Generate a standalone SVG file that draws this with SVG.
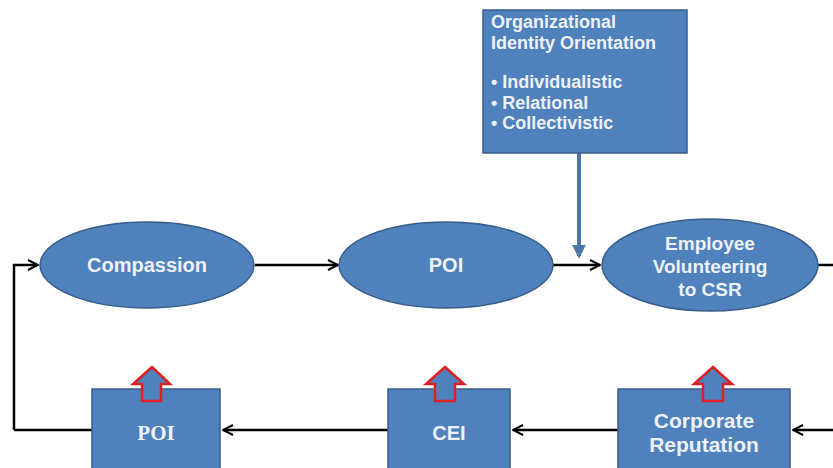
<svg xmlns="http://www.w3.org/2000/svg" width="833" height="468" viewBox="0 0 833 468">
<defs>
<style>
.n{fill:#4f81bd;stroke:#385d8a;stroke-width:1.5}
.t{font-family:"Liberation Sans",Arial,sans-serif;font-weight:bold;fill:#eef2f8;font-size:20px;text-anchor:middle}
.tl{font-family:"Liberation Sans",Arial,sans-serif;font-weight:bold;fill:#eef2f8;font-size:18px}
.c{fill:none;stroke:#000;stroke-width:2.5}
.up{fill:#4f81bd;stroke:#e02020;stroke-width:2.5;stroke-linejoin:miter}
</style>
<marker id="ah" viewBox="0 0 10 10" refX="9" refY="5" markerWidth="5" markerHeight="5" orient="auto" markerUnits="strokeWidth">
<path d="M1,1 L9,5 L1,9" fill="none" stroke="#000" stroke-width="1.6"/>
</marker>
<marker id="bh" viewBox="0 0 10 10" refX="8" refY="5" markerWidth="3.5" markerHeight="3.5" orient="auto" markerUnits="strokeWidth">
<path d="M0,0 L10,5 L0,10 Z" fill="#4a76a8"/>
</marker>
</defs>
<g id="connectors">
<path class="c" d="M14,430 L14,265 L38,265" marker-end="url(#ah)"/>
<path class="c" d="M255,265 L338,265" marker-end="url(#ah)"/>
<path class="c" d="M553,265 L600,265" marker-end="url(#ah)"/>
<path class="c" d="M817,265 L833,265"/>
<path class="c" d="M92,430 L14,430"/>
<path class="c" d="M388,430 L223,430" marker-end="url(#ah)"/>
<path class="c" d="M618,430 L513,430" marker-end="url(#ah)"/>
<path class="c" d="M833,430 L793,430" marker-end="url(#ah)"/>
<path d="M579,153 L579,256" stroke="#4a76a8" stroke-width="4" fill="none" marker-end="url(#bh)"/>
</g>
<g id="orientation">
<rect class="n" x="483" y="10" width="204" height="143"/>
<text class="tl" x="491" y="28">Organizational</text>
<text class="tl" x="491" y="49">Identity Orientation</text>
<text class="tl" x="491" y="88">• Individualistic</text>
<text class="tl" x="491" y="108.5">• Relational</text>
<text class="tl" x="491" y="129">• Collectivistic</text>
</g>
<g id="compassion">
<ellipse class="n" cx="147" cy="265" rx="107" ry="43"/>
<text class="t" x="147" y="272">Compassion</text>
</g>
<g id="poi-top">
<ellipse class="n" cx="446" cy="265" rx="107" ry="43"/>
<text class="t" x="446" y="272">POI</text>
</g>
<g id="employee">
<ellipse class="n" cx="710" cy="265" rx="108" ry="46"/>
<text class="t" x="710" y="250" style="font-size:19px">Employee</text>
<text class="t" x="710" y="273" style="font-size:19px">Volunteering</text>
<text class="t" x="710" y="296" style="font-size:19px">to CSR</text>
</g>
<g id="poi-bottom">
<rect class="n" x="92" y="389" width="128" height="90"/>
<text class="t" x="156" y="440" style="font-family:'Liberation Serif','DejaVu Serif',serif;font-size:21px">POI</text>
<path class="up" d="M152,367 L170,384 L161,384 L161,401 L142,401 L142,384 L133,384 Z"/>
</g>
<g id="cei">
<rect class="n" x="388" y="389" width="122" height="90"/>
<text class="t" x="449" y="440">CEI</text>
<path class="up" d="M445,367 L464,384 L455,384 L455,401 L435,401 L435,384 L426,384 Z"/>
</g>
<g id="reputation">
<rect class="n" x="618" y="389" width="172" height="90"/>
<text class="t" x="704" y="428" style="font-size:21px">Corporate</text>
<text class="t" x="704" y="451.5" style="font-size:21px">Reputation</text>
<path class="up" d="M713,367 L732,384 L723,384 L723,401 L703,401 L703,384 L694,384 Z"/>
</g>
</svg>
